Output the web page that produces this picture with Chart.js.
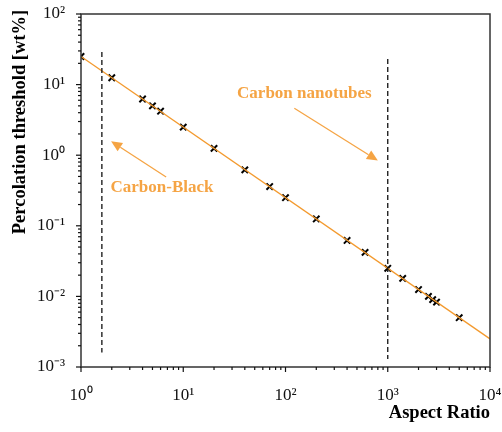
<!DOCTYPE html>
<html>
<head>
<meta charset="utf-8">
<script src="https://cdn.jsdelivr.net/npm/chart.js@4.4.1/dist/chart.umd.min.js"></script>
<style>
html,body{margin:0;padding:0;background:#fff;}
#wrap{width:502px;height:432px;}
</style>
</head>
<body>
<div id="wrap"><canvas id="c" width="502" height="432"></canvas></div>
<script>
// ---- data ----
const aspectRatio = [1, 2, 4, 5, 6, 10, 20, 40, 70, 100, 200, 400, 600, 1000, 1400, 2000, 2500, 2750, 3000, 5000];
const threshold   = [25, 12.5, 6.25, 5, 4.2, 2.5, 1.25, 0.62, 0.36, 0.25, 0.125, 0.062, 0.042, 0.025, 0.018, 0.0125, 0.01, 0.009, 0.0083, 0.005];
const fitX = [1, 10000];
const fitY = [25, 0.0025];
const cbBoundaryX = [1.6, 1.6];
const cbBoundaryY = [29, 0.0016];
const cntBoundaryX = [1000, 1000];
const cntBoundaryY = [23, 0.0013];
const xTickValues = [1, 10, 100, 1000, 10000];
const yTickValues = [0.001, 0.01, 0.1, 1, 10, 100];
const annotations = [
  {text: 'Carbon nanotubes', x: 153, y: 7.5, from: [122, 4.63], to: [800, 0.84]},
  {text: 'Carbon-Black', x: 6.2, y: 0.35, from: [6.8, 0.49], to: [1.97, 1.58]}
];
const xTitle = 'Aspect Ratio';
const yTitle = 'Percolation threshold [wt%]';

const ORANGE = '#f5a444';
const SERIF = '"Liberation Serif", "Times New Roman", serif';
const SUP = {'-':'\u207B','0':'\u2070','1':'\u00B9','2':'\u00B2','3':'\u00B3','4':'\u2074'};
function pow10Label(v){
  const e = Math.round(Math.log10(v));
  if (Math.abs(Math.log10(v) - e) > 1e-6) return '';
  return '10' + String(e).split('').map(c => SUP[c]).join('');
}
function allLogTicks(min, max){
  const out = [];
  for (let e = Math.round(Math.log10(min)); e < Math.round(Math.log10(max)); e++) {
    for (let m = 1; m < 10; m++) out.push({value: m * Math.pow(10, e)});
  }
  out.push({value: max});
  return out;
}

const pts = aspectRatio.map((x, i) => ({x, y: threshold[i]}));
const fit = fitX.map((x, i) => ({x, y: fitY[i]}));
const cb = cbBoundaryX.map((x, i) => ({x, y: cbBoundaryY[i]}));
const cnt = cntBoundaryX.map((x, i) => ({x, y: cntBoundaryY[i]}));

const decor = {
  id: 'decor',
  afterDatasetsDraw(chart){
    const {ctx, chartArea: a, scales: {x, y}} = chart;
    ctx.save();
    // frame
    ctx.strokeStyle = '#333'; ctx.lineWidth = 1.5;
    ctx.strokeRect(a.left, a.top, a.right - a.left, a.bottom - a.top);
    // ticks (outward)
    ctx.strokeStyle = '#111'; ctx.lineWidth = 1.2;
    x.ticks.forEach(t => {
      const major = pow10Label(t.value) !== '';
      const px = x.getPixelForValue(t.value);
      ctx.beginPath(); ctx.moveTo(px, a.bottom); ctx.lineTo(px, a.bottom + (major ? 5 : 3)); ctx.stroke();
    });
    y.ticks.forEach(t => {
      const major = pow10Label(t.value) !== '';
      const py = y.getPixelForValue(t.value);
      ctx.beginPath(); ctx.moveTo(a.left, py); ctx.lineTo(a.left - (major ? 5 : 3), py); ctx.stroke();
    });
    // annotations
    ctx.fillStyle = ORANGE; ctx.strokeStyle = ORANGE;
    ctx.font = 'bold 17px ' + SERIF;
    ctx.textAlign = 'center'; ctx.textBaseline = 'middle';
    annotations.forEach(an => {
      ctx.fillText(an.text, x.getPixelForValue(an.x), y.getPixelForValue(an.y));
      const x0 = x.getPixelForValue(an.from[0]), y0 = y.getPixelForValue(an.from[1]);
      const x1 = x.getPixelForValue(an.to[0]), y1 = y.getPixelForValue(an.to[1]);
      const ang = Math.atan2(y1 - y0, x1 - x0);
      const hl = 11, hw = 5;
      const bx = x1 - hl * Math.cos(ang), by = y1 - hl * Math.sin(ang);
      ctx.lineWidth = 1.3;
      ctx.beginPath(); ctx.moveTo(x0, y0); ctx.lineTo(bx, by); ctx.stroke();
      ctx.beginPath();
      ctx.moveTo(x1, y1);
      ctx.lineTo(bx + hw * Math.sin(ang), by - hw * Math.cos(ang));
      ctx.lineTo(bx - hw * Math.sin(ang), by + hw * Math.cos(ang));
      ctx.closePath(); ctx.fill();
    });
    // axis titles
    ctx.fillStyle = '#000';
    ctx.font = 'bold 18.5px ' + SERIF;
    ctx.textAlign = 'right'; ctx.textBaseline = 'middle';
    ctx.fillText(xTitle, a.right, 413);
    ctx.save();
    ctx.translate(20, 122);
    ctx.rotate(-Math.PI / 2);
    ctx.textAlign = 'center';
    ctx.fillText(yTitle, 0, 0);
    ctx.restore();
    ctx.restore();
  }
};

new Chart(document.getElementById('c'), {
  type: 'line',
  data: {
    datasets: [
      {data: cb, borderColor: '#111', borderWidth: 1.3, borderDash: [5, 3], pointRadius: 0, fill: false},
      {data: cnt, borderColor: '#111', borderWidth: 1.3, borderDash: [5, 3], pointRadius: 0, fill: false},
      {data: fit, borderColor: '#f39a2e', borderWidth: 1.3, pointRadius: 0, fill: false},
      {data: pts, showLine: false, pointStyle: 'crossRot', pointRotation: 0, pointRadius: 4.5, borderColor: '#000', pointBorderWidth: 2, pointBorderColor: '#000', pointBackgroundColor: '#000'}
    ]
  },
  options: {
    responsive: false,
    animation: false,
    events: [],
    layout: {padding: {top: 14, right: 12, left: 0, bottom: 0}},
    plugins: {legend: {display: false}, tooltip: {enabled: false}},
    scales: {
      x: {
        type: 'logarithmic', min: 1, max: 10000,
        afterBuildTicks: s => { s.ticks = allLogTicks(1, 10000); },
        afterFit: s => { s.height = 65; s.paddingLeft = 0; s.paddingRight = 0; },
        grid: {display: false},
        border: {display: false},
        ticks: {
          autoSkip: false, maxRotation: 0, padding: 10, color: '#111',
          font: {family: SERIF, size: 17},
          callback: v => (xTickValues.some(t => Math.abs(t - v) / t < 1e-6) ? pow10Label(v) : '')
        }
      },
      y: {
        type: 'logarithmic', min: 0.001, max: 100,
        afterBuildTicks: s => { s.ticks = allLogTicks(0.001, 100); },
        afterFit: s => { s.width = 81; s.paddingTop = 0; s.paddingBottom = 0; },
        grid: {display: false},
        border: {display: false},
        ticks: {
          autoSkip: false, padding: 8, color: '#111',
          font: {family: SERIF, size: 17},
          callback: v => (yTickValues.some(t => Math.abs(t - v) / t < 1e-6) ? pow10Label(v) : '')
        }
      }
    }
  },
  plugins: [decor]
});
</script>
</body>
</html>
